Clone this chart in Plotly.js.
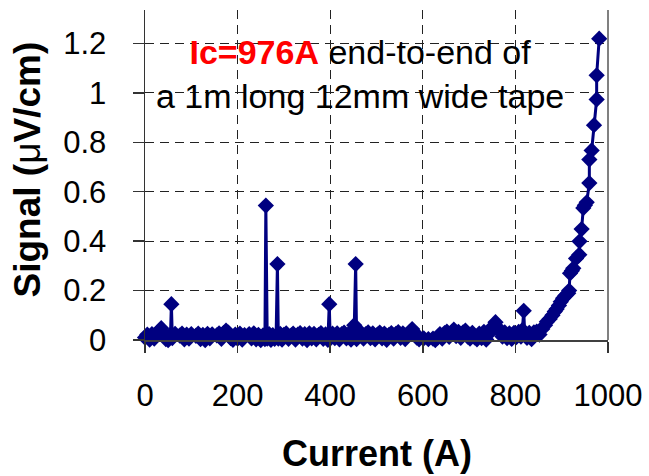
<!DOCTYPE html>
<html>
<head>
<meta charset="utf-8">
<script src="https://cdn.plot.ly/plotly-3.0.1.min.js"></script>
<style>html,body{margin:0;padding:0;background:#fff;}#chart{width:649px;height:476px;}</style>
</head>
<body>
<div id="chart"></div>
<script>
// Current (A) values
var current = [
  0, 5, 10, 15, 20, 25, 30, 35, 40, 45,
  50, 55, 57, 59, 65, 70, 75, 80, 85, 90,
  95, 100, 105, 110, 115, 120, 125, 130, 135, 140,
  145, 150, 155, 160, 165, 170, 175, 180, 185, 190,
  195, 200, 205, 210, 215, 220, 225, 230, 235, 240,
  245, 250, 255, 259, 261, 264, 268, 272, 276, 280,
  283, 286, 288, 292, 296, 300, 305, 310, 313, 316,
  320, 325, 330, 335, 340, 345, 350, 355, 360, 365,
  370, 375, 380, 385, 390, 395, 398, 400, 405, 410,
  415, 420, 425, 430, 435, 440, 445, 450, 452, 455,
  457, 462, 467, 472, 477, 482, 487, 492, 497, 502,
  507, 512, 517, 522, 527, 532, 537, 542, 547, 552,
  557, 562, 567, 572, 577, 582, 587, 592, 597, 602,
  607, 612, 617, 622, 627, 632, 637, 642, 647, 652,
  657, 662, 667, 672, 677, 682, 687, 692, 697, 702,
  707, 712, 717, 722, 727, 732, 737, 742, 747, 752,
  757, 762, 767, 772, 777, 782, 787, 792, 797, 802,
  807, 812, 815, 818, 820, 825, 830, 835, 840, 846,
  852, 858, 864, 868, 874, 880, 885, 889, 894, 898,
  903, 908, 914, 916, 918, 922, 925, 931, 938, 938.5,
  943, 946.7, 950, 954, 959.7, 959.7, 964.7, 969.8, 975.5, 975.5,
  981
];
// Signal (uV/cm) values
var signal = [
  0.010, 0.022, 0.002, 0.024, 0.006, 0.026, 0.034, 0.048, 0.026, 0.004,
  0.000, 0.021, 0.145, 0.008, 0.025, -0.002, 0.018, 0.026, 0.003, 0.022,
  0.006, 0.024, -0.003, 0.017, 0.026, 0.004, 0.021, 0.000, 0.025, 0.007,
  0.023, -0.001, 0.019, 0.027, 0.005, 0.028, 0.038, 0.030, 0.008, 0.001,
  0.022, 0.006, 0.026, 0.002, 0.020, -0.002, 0.024, 0.007, 0.027, 0.003,
  0.021, 0.000, 0.019, 0.004, 0.544, 0.006, 0.024, 0.001, 0.020, 0.005,
  -0.002, 0.307, 0.006, 0.025, 0.002, 0.021, 0.027, 0.005, -0.030, 0.019,
  0.026, 0.002, 0.022, 0.028, 0.006, 0.024, 0.000, 0.027, 0.007, 0.025,
  0.003, 0.021, 0.028, 0.005, 0.023, 0.001, 0.145, 0.006, 0.026, 0.008,
  0.027, 0.003, 0.024, 0.030, 0.007, 0.025, 0.002, 0.020, 0.060, 0.307,
  0.004, 0.026, 0.029, 0.006, 0.024, 0.031, 0.008, 0.027, 0.003, 0.022,
  0.030, 0.007, 0.026, 0.001, 0.021, 0.028, 0.006, 0.025, 0.032, 0.009,
  0.027, 0.004, 0.023, 0.033, 0.044, 0.030, 0.010, 0.003, -0.002, 0.007,
  -0.004, 0.004, -0.004, 0.006, 0.000, 0.010, 0.024, 0.006, 0.028, 0.034,
  0.013, 0.030, 0.042, 0.016, 0.033, 0.009, 0.031, 0.038, 0.014, 0.006,
  0.029, 0.011, 0.003, 0.026, 0.008, 0.033, 0.002, 0.024, 0.040, 0.056,
  0.072, 0.050, 0.033, 0.014, 0.031, 0.008, 0.027, 0.005, 0.029, 0.012,
  0.033, 0.014, 0.040, 0.118, 0.032, 0.009, 0.029, 0.004, 0.031, 0.034,
  0.022, 0.045, 0.060, 0.074, 0.085, 0.100, 0.115, 0.125, 0.140, 0.155,
  0.169, 0.180, 0.189, 0.200, 0.270, 0.280, 0.290, 0.330, 0.345, 0.399,
  0.449, 0.534, 0.545, 0.557, 0.635, 0.730, 0.767, 0.869, 0.973, 1.071,
  1.219
];
var xTicks = [0, 200, 400, 600, 800, 1000];
var xTickText = ['0', '200', '400', '600', '800', '1000'];
var yTicks = [0, 0.2, 0.4, 0.6, 0.8, 1, 1.2];
var yTickText = ['0', '0.2', '0.4', '0.6', '0.8', '1', '1.2'];

var FONT = 'Liberation Sans, Arial, Helvetica, sans-serif';

var trace = {
  x: current,
  y: signal,
  type: 'scatter',
  mode: 'lines+markers',
  cliponaxis: false,
  line: {color: '#000080', width: 3},
  marker: {symbol: 'diamond', size: 12.5, color: '#000080'},
  hoverinfo: 'x+y'
};

var layout = {
  width: 649,
  height: 476,
  margin: {l: 145, r: 41, t: 10, b: 136},
  paper_bgcolor: '#ffffff',
  plot_bgcolor: '#ffffff',
  showlegend: false,
  font: {family: FONT, color: '#000000'},
  xaxis: {
    range: [0, 1000],
    tickvals: xTicks,
    ticktext: xTickText,
    ticks: 'outside',
    ticklen: 11,
    tickwidth: 1.5,
    tickcolor: '#333333',
    tickfont: {family: FONT, size: 31, color: '#000000'},
    ticklabelstandoff: 16,
    showline: true,
    linecolor: '#404040',
    linewidth: 1.5,
    showgrid: true,
    gridcolor: '#222222',
    gridwidth: 1,
    griddash: '9px,6px',
    zeroline: false,
    fixedrange: true
  },
  yaxis: {
    range: [0, 1.335],
    tickvals: yTicks,
    ticktext: yTickText,
    ticks: 'outside',
    ticklen: 11,
    tickwidth: 1.5,
    tickcolor: '#333333',
    tickfont: {family: FONT, size: 31, color: '#000000'},
    ticklabelstandoff: 20,
    showline: true,
    linecolor: '#333333',
    linewidth: 1.5,
    showgrid: true,
    gridcolor: '#222222',
    gridwidth: 1,
    griddash: '9px,6px',
    zeroline: false,
    fixedrange: true
  },
  shapes: [
    {type: 'line', xref: 'paper', yref: 'paper', x0: 1, x1: 1, y0: 0, y1: 1,
     line: {color: '#808080', width: 2}}
  ],
  annotations: [
    {
      xref: 'paper', yref: 'paper', x: 0.5, y: -0.345,
      xanchor: 'center', yanchor: 'middle', showarrow: false, borderpad: 0,
      text: '<b>Current (A)</b>',
      font: {family: FONT, size: 36, color: '#000000'}
    },
    {
      xref: 'paper', yref: 'paper', x: -0.254, y: 0.518,
      xanchor: 'center', yanchor: 'middle', showarrow: false, textangle: -90,
      text: '<b>Signal (</b>μ<b>V/cm)</b>',
      font: {family: FONT, size: 37, color: '#000000'}
    },
    {
      xref: 'paper', yref: 'paper', x: 0.4644, y: 0.806,
      xanchor: 'center', yanchor: 'middle', showarrow: false, align: 'center',
      text: '<span style="color:#ff0000"><b>Ic=976A</b></span> end-to-end of<br>a 1m long 12mm wide tape',
      font: {family: FONT, size: 34, color: '#000000'}
    }
  ]
};

Plotly.newPlot('chart', [trace], layout, {staticPlot: true, displayModeBar: false});
</script>
</body>
</html>
